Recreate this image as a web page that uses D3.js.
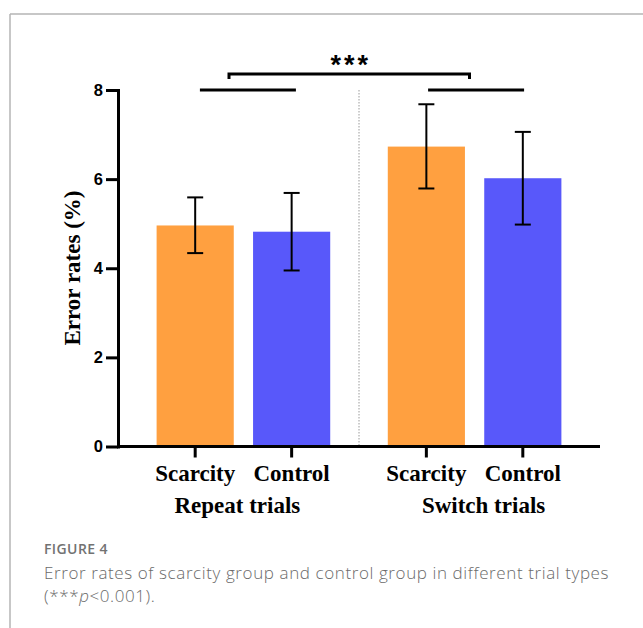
<!DOCTYPE html>
<html>
<head>
<meta charset="utf-8">
<script src="https://cdn.jsdelivr.net/npm/d3@7"></script>
<style>
  html, body { margin: 0; padding: 0; background: #fff; }
  svg { display: block; }
</style>
</head>
<body>
<svg id="chart" width="643" height="628"></svg>
<script>
// ---- data ----
const groups = ["Repeat trials", "Switch trials"];
const conditions = ["Scarcity", "Control"];
const means = [[4.96, 4.82], [6.73, 6.02]];
const errLow = [[4.34, 3.95], [5.79, 4.98]];
const errHigh = [[5.59, 5.69], [7.68, 7.06]];
const yTicks = [0, 2, 4, 6, 8];
const sigLabel = "***";
const yLabel = "Error rates (%)";
const captionTitle = "FIGURE 4";
const captionLine1 = "Error rates of scarcity group and control group in different trial types";
const colors = ["#FFA040", "#5858FA"];

const svg = d3.select("#chart");

// frame
svg.append("line").attr("x1", 10).attr("y1", 14).attr("x2", 643).attr("y2", 14)
  .attr("stroke", "#b4b4b4").attr("stroke-width", 1.5);
svg.append("line").attr("x1", 10).attr("y1", 14).attr("x2", 10).attr("y2", 628)
  .attr("stroke", "#b4b4b4").attr("stroke-width", 1.5);

const y = d3.scaleLinear().domain([0, 8]).range([446.5, 90]);
const x0 = d3.scaleBand().domain(groups).range([118, 600])
  .paddingInner(0.249).paddingOuter(0.167);
const x1 = d3.scaleBand().domain(conditions).range([0, x0.bandwidth()]).paddingInner(0.2);

const g = svg.append("g");

// separator dotted line
const sepX = (x0(groups[0]) + x0.bandwidth() + x0(groups[1])) / 2;
g.append("line").attr("x1", sepX).attr("x2", sepX).attr("y1", y(8)).attr("y2", y(0))
  .attr("stroke", "#9a9a9a").attr("stroke-width", 1).attr("stroke-dasharray", "1.5,1.5");

// bars
const flat = [];
groups.forEach((gr, gi) => conditions.forEach((c, ci) => flat.push({
  gr, c, gi, ci, v: means[gi][ci], lo: errLow[gi][ci], hi: errHigh[gi][ci]
})));
const cx = d => x0(d.gr) + x1(d.c) + x1.bandwidth() / 2;

g.selectAll("rect.bar").data(flat).join("rect")
  .attr("class", "bar")
  .attr("x", d => x0(d.gr) + x1(d.c))
  .attr("y", d => y(d.v))
  .attr("width", x1.bandwidth())
  .attr("height", d => y(0) - y(d.v))
  .attr("fill", d => colors[d.ci]);

// error bars
const capW = 8;
const eb = g.selectAll("g.eb").data(flat).join("g").attr("class", "eb")
  .attr("stroke", "#000").attr("stroke-width", 2);
eb.append("line").attr("x1", cx).attr("x2", cx).attr("y1", d => y(d.lo)).attr("y2", d => y(d.hi));
eb.append("line").attr("x1", d => cx(d) - capW).attr("x2", d => cx(d) + capW)
  .attr("y1", d => y(d.hi)).attr("y2", d => y(d.hi));
eb.append("line").attr("x1", d => cx(d) - capW).attr("x2", d => cx(d) + capW)
  .attr("y1", d => y(d.lo)).attr("y2", d => y(d.lo));

// y axis
const yAxis = d3.axisLeft(y).tickValues(yTicks).tickSize(12).tickSizeOuter(0).tickPadding(3);
const ya = svg.append("g").attr("transform", "translate(118,0)").call(yAxis);
ya.select(".domain").attr("stroke-width", 3).attr("stroke-linecap", "square");
ya.selectAll(".tick line").attr("stroke-width", 3);
ya.selectAll(".tick text").attr("font-family", "Liberation Sans, Arial, sans-serif")
  .attr("font-weight", "bold").attr("font-size", 16.5).attr("fill", "#000");

// x axis line
svg.append("line").attr("x1", 118).attr("x2", 600).attr("y1", y(0)).attr("y2", y(0))
  .attr("stroke", "#000").attr("stroke-width", 3);
// x ticks
svg.selectAll("line.xt").data(flat).join("line").attr("class", "xt")
  .attr("x1", cx).attr("x2", cx).attr("y1", y(0)).attr("y2", y(0) + 11)
  .attr("stroke", "#000").attr("stroke-width", 3);

const serif = "Liberation Serif, Times New Roman, serif";
svg.selectAll("text.cond").data(flat).join("text").attr("class", "cond")
  .attr("x", cx).attr("y", 481).attr("text-anchor", "middle")
  .attr("font-family", serif).attr("font-weight", "bold").attr("font-size", 23)
  .text(d => d.c);
const groupDx = [-6, 9];
svg.selectAll("text.grp").data(groups).join("text").attr("class", "grp")
  .attr("x", (d, i) => x0(d) + x0.bandwidth() / 2 + groupDx[i]).attr("y", 513)
  .attr("text-anchor", "middle")
  .attr("font-family", serif).attr("font-weight", "bold").attr("font-size", 23)
  .text(d => d);

// y label
svg.append("text").attr("transform", "translate(80,268) rotate(-90)")
  .attr("text-anchor", "middle")
  .attr("font-family", serif).attr("font-weight", "bold").attr("font-size", 23)
  .text(yLabel);

// significance annotations
const lineHalf = 48;
const sig = svg.append("g").attr("stroke", "#000").attr("stroke-width", 3).attr("fill", "none");
const gc = groups.map(gr => x0(gr) + x0.bandwidth() / 2);
const shortCenters = [gc[0] + 4.5, gc[1] + 1.5];
shortCenters.forEach(c => sig.append("line")
  .attr("x1", c - lineHalf).attr("x2", c + lineHalf).attr("y1", y(8)).attr("y2", y(8)));
const bx1 = 229, bx2 = 469.5, by = y(8) - 16;
sig.append("path").attr("d", `M${bx1},${by + 5}V${by}H${bx2}V${by + 5}`);
svg.append("text").attr("x", (bx1 + bx2) / 2 + 1.5).attr("y", by).attr("text-anchor", "middle")
  .attr("font-family", "Liberation Sans, Arial, sans-serif").attr("font-weight", "bold")
  .attr("font-size", 27).attr("letter-spacing", 3).text(sigLabel);

// caption
const sans = "Open Sans, Noto Sans, sans-serif";
svg.append("text").attr("x", 44).attr("y", 554).attr("font-family", sans)
  .attr("font-size", 14).attr("font-weight", 600).attr("letter-spacing", 0.4)
  .attr("fill", "#727272").text(captionTitle);
svg.append("text").attr("x", 44).attr("y", 579).attr("font-family", sans)
  .attr("font-size", 17).attr("font-weight", 300).attr("letter-spacing", 0.6)
  .attr("fill", "#6a6a6a").text(captionLine1);
const cap2 = svg.append("text").attr("x", 44).attr("y", 602).attr("font-family", sans)
  .attr("font-size", 17).attr("font-weight", 300).attr("letter-spacing", 0.6)
  .attr("fill", "#6a6a6a");
cap2.append("tspan").text("(***");
cap2.append("tspan").attr("font-style", "italic").text("p");
cap2.append("tspan").text("<0.001).");
</script>
</body>
</html>
